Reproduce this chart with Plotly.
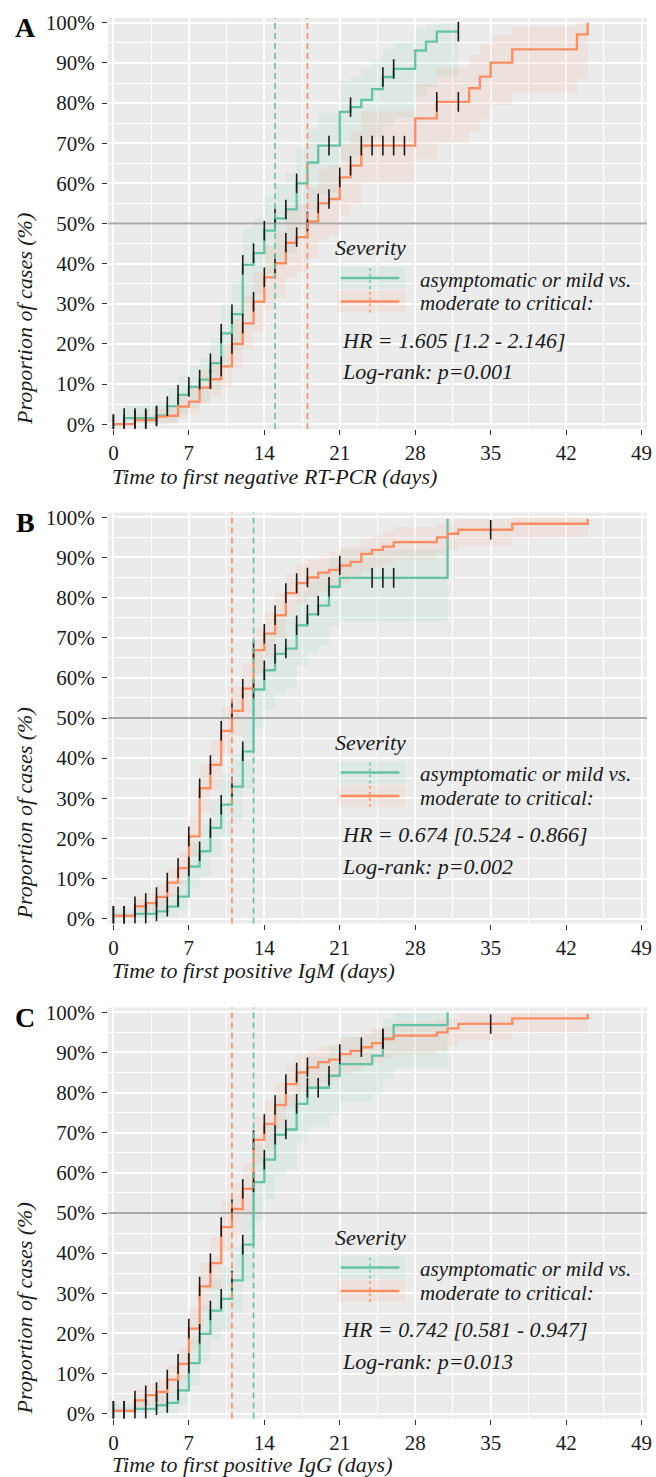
import plotly.graph_objects as go

# ---------------------------------------------------------------- text / ticks
FONT = "Liberation Serif"
GREEN = "#66C2A5"
ORANGE = "#FC8D62"
GREEN_FILL = "rgba(102,194,165,0.10)"
ORANGE_FILL = "rgba(252,141,98,0.10)"

X_TICKS = [0, 7, 14, 21, 28, 35, 42, 49]
X_TICK_LABELS = ["0", "7", "14", "21", "28", "35", "42", "49"]
Y_TICKS = [0, 10, 20, 30, 40, 50, 60, 70, 80, 90, 100]
Y_TICK_LABELS = ["0%", "10%", "20%", "30%", "40%", "50%", "60%", "70%", "80%", "90%", "100%"]
X_RANGE = [-0.5, 49.5]
Y_RANGE = [-1.2, 101.2]

PANEL_LETTERS = ["A", "B", "C"]
X_TITLES = ["Time to first negative RT-PCR (days)",
            "Time to first positive IgM (days)",
            "Time to first positive IgG (days)"]
Y_TITLE = "Proportion of cases (%)"
LEGEND_TITLE = "Severity"
GROUP_LABELS = ["asymptomatic or mild vs.", "moderate to critical:"]
HR_TEXTS = ["HR = 1.605 [1.2 - 2.146]", "HR = 0.674 [0.524 - 0.866]", "HR = 0.742 [0.581 - 0.947]"]
LOGRANK_TEXTS = ["Log-rank: p=0.001", "Log-rank: p=0.002", "Log-rank: p=0.013"]
REFERENCE_LEVEL = 50

# ---------------------------------------------------------------- panel A data
A_MILD_TIME = [0, 1, 4, 5, 6, 7, 8, 9, 10, 11, 12, 13, 14, 15, 16, 17, 18, 19, 21, 22, 23, 24, 25, 26, 28, 29, 30]
A_MILD_PCT = [0, 1.5, 2.2, 4.5, 7.3, 9.3, 11.1, 15.2, 22.6, 27.4, 39.7, 42.6, 48.2, 51.3, 53.5, 60.0, 65.2, 69.4,
              77.8, 79.0, 80.8, 83.5, 86.5, 88.5, 93.1, 95.3, 97.8]
A_MILD_LO = [0, 0, 0, 0.5, 2.5, 4.0, 5.5, 8.5, 14.5, 18.5, 29.5, 32.5, 37.5, 40.5, 42.5, 48.5, 53.5, 57.5,
             65.5, 67.0, 68.5, 71.5, 74.5, 76.5, 81.5, 84.0, 86.5]
A_MILD_HI = [0, 4.5, 5.5, 9.0, 12.0, 14.5, 16.5, 21.5, 30.0, 35.5, 48.5, 51.5, 57.0, 60.0, 62.5, 69.0, 73.5, 77.5,
             85.5, 86.5, 88.5, 91.0, 93.5, 95.0, 98.5, 99.5, 100]
A_MILD_END = 32
A_MILD_CENSOR = [0, 1, 2, 3, 4, 5, 6, 7, 8, 9, 10, 11, 12, 13, 14, 15, 16, 17, 20, 22, 25, 26, 32]
A_MILD_MEDIAN = 15

A_MOD_TIME = [0, 2, 4, 5, 6, 7, 8, 9, 10, 11, 12, 13, 14, 15, 16, 17, 18, 19, 20, 21, 22, 23, 28, 30, 33, 34,
              35, 37, 43, 44]
A_MOD_PCT = [0, 1.0, 1.9, 2.1, 4.4, 5.6, 9.1, 11.2, 14.4, 20.0, 25.1, 30.5, 36.6, 40.1, 45.2, 46.6, 50.5, 55.0,
             56.1, 61.5, 64.4, 69.4, 76.2, 80.3, 83.7, 86.6, 90.1, 93.4, 97.1, 100]
A_MOD_LO = [0, 0, 0, 0, 1.5, 2.5, 5.0, 6.5, 9.0, 14.0, 18.5, 23.0, 28.5, 31.5, 36.5, 38.0, 41.5, 46.0, 47.0,
            52.0, 55.0, 60.0, 66.0, 70.0, 73.0, 76.0, 79.5, 82.5, 86.0, 88.0]
A_MOD_HI = [0, 2.5, 4.0, 4.5, 7.5, 9.0, 13.5, 16.0, 20.0, 26.0, 32.0, 38.0, 44.5, 48.0, 53.5, 55.0, 59.0, 63.5,
            64.5, 70.0, 73.0, 78.0, 85.0, 89.0, 92.0, 94.5, 97.0, 99.0, 100, 100]
A_MOD_END = 44
A_MOD_CENSOR = [0, 1, 2, 3, 4, 9, 10, 11, 12, 13, 14, 15, 16, 17, 18, 19, 20, 21, 22, 23, 24, 25, 26, 27, 30, 32]
A_MOD_MEDIAN = 18

# ---------------------------------------------------------------- panel B data
B_MILD_TIME = [0, 2, 4, 5, 6, 7, 8, 9, 10, 11, 12, 13, 14, 15, 16, 17, 18, 19, 20, 21, 31]
B_MILD_PCT = [0.7, 1.2, 1.8, 3.0, 5.5, 13.0, 16.8, 22.6, 28.4, 32.9, 41.7, 57.1, 61.9, 66.0, 67.3, 73.1, 75.8,
              78.0, 82.7, 84.9, 99.6]
B_MILD_LO = [0, 0, 0, 0.5, 2.0, 7.5, 10.5, 15.5, 20.5, 24.5, 32.5, 47.5, 52.0, 56.0, 57.5, 63.0, 66.0, 68.0,
             73.0, 74.0, 74.0]
B_MILD_HI = [2.5, 3.5, 4.5, 6.0, 9.5, 19.0, 23.5, 30.0, 36.0, 41.0, 50.5, 66.0, 70.5, 74.5, 76.0, 81.5, 84.0,
             86.0, 90.0, 92.0, 100]
B_MILD_END = 31
B_MILD_CENSOR = [0, 1, 2, 3, 4, 5, 6, 7, 8, 9, 10, 11, 12, 13, 14, 15, 16, 17, 18, 19, 20, 24, 25, 26]
B_MILD_MEDIAN = 13

B_MOD_TIME = [0, 2, 3, 4, 5, 6, 7, 8, 9, 10, 11, 12, 13, 14, 15, 16, 17, 18, 19, 20, 21, 22, 23, 24, 25, 26,
              30, 31, 32, 37, 44]
B_MOD_PCT = [0.7, 3.1, 3.9, 5.4, 9.0, 12.6, 20.5, 32.5, 38.3, 46.8, 51.8, 57.3, 66.9, 71.0, 75.6, 81.1, 83.6,
             85.0, 86.2, 86.9, 88.0, 88.9, 90.9, 91.9, 92.7, 93.8, 95.0, 95.9, 96.9, 98.4, 99.6]
B_MOD_LO = [0, 1.0, 1.5, 2.5, 5.5, 8.5, 15.5, 26.5, 32.0, 40.5, 45.5, 51.0, 61.0, 65.0, 70.0, 76.0, 78.5, 80.0,
            81.5, 82.0, 83.5, 84.5, 86.5, 87.5, 88.5, 89.5, 91.0, 92.0, 93.0, 95.0, 96.0]
B_MOD_HI = [1.5, 5.5, 6.5, 8.5, 12.5, 16.5, 25.5, 38.5, 44.5, 53.0, 58.0, 63.5, 72.5, 76.5, 81.0, 86.0, 88.5,
            89.5, 90.5, 91.5, 92.5, 93.0, 94.5, 95.5, 96.5, 97.5, 98.5, 99.0, 99.5, 100, 100]
B_MOD_END = 44
B_MOD_CENSOR = [0, 1, 2, 3, 4, 5, 6, 7, 8, 9, 10, 11, 12, 13, 14, 15, 16, 17, 18, 21, 35]
B_MOD_MEDIAN = 11

# ---------------------------------------------------------------- panel C data
C_MILD_TIME = [0, 2, 4, 5, 6, 7, 8, 9, 10, 11, 12, 13, 14, 15, 16, 17, 18, 20, 21, 24, 25, 26, 31]
C_MILD_PCT = [0.7, 1.2, 2.1, 2.7, 5.8, 12.6, 19.9, 25.7, 28.6, 33.2, 42.1, 57.7, 63.3, 69.5, 70.8, 77.2, 81.2,
              84.2, 87.1, 89.2, 93.5, 96.8, 100]
C_MILD_LO = [0, 0, 0, 0, 2.0, 7.0, 13.0, 18.5, 21.0, 25.0, 33.0, 48.0, 53.5, 59.5, 61.0, 67.5, 71.5, 74.5,
             77.5, 79.5, 83.5, 86.0, 86.0]
C_MILD_HI = [2.5, 3.5, 4.5, 5.5, 10.0, 18.5, 27.0, 33.5, 36.5, 41.5, 51.0, 67.0, 72.5, 78.5, 79.5, 85.5, 89.0,
             91.5, 94.0, 95.5, 98.5, 100, 100]
C_MILD_END = 31
C_MILD_CENSOR = [0, 1, 2, 3, 4, 5, 6, 7, 8, 9, 10, 11, 12, 13, 14, 15, 16, 17, 18, 19, 20, 25]
C_MILD_MEDIAN = 13

C_MOD_TIME = [0, 2, 3, 4, 5, 6, 7, 8, 9, 10, 11, 12, 13, 14, 15, 16, 17, 18, 19, 20, 21, 22, 23, 24, 25, 26,
              30, 31, 32, 37, 44]
C_MOD_PCT = [0.7, 3.3, 4.6, 5.4, 8.5, 12.4, 21.2, 31.7, 37.5, 46.5, 51.0, 56.0, 68.2, 72.2, 76.9, 82.1, 85.0,
             86.3, 87.6, 88.2, 89.6, 90.4, 91.3, 92.3, 93.3, 94.2, 95.0, 96.0, 97.1, 98.5, 99.6]
C_MOD_LO = [0, 1.0, 2.0, 2.5, 5.0, 8.5, 16.0, 25.5, 31.0, 40.0, 44.5, 49.5, 62.0, 66.0, 71.0, 76.5, 79.5, 81.0,
            82.5, 83.0, 84.5, 85.5, 86.5, 87.5, 88.5, 89.5, 90.5, 91.5, 93.0, 95.0, 96.0]
C_MOD_HI = [1.5, 6.0, 7.5, 8.5, 12.0, 16.5, 26.5, 37.5, 44.0, 53.0, 57.5, 62.5, 74.0, 78.0, 82.5, 87.0, 89.5,
            90.5, 91.5, 92.0, 93.5, 94.0, 95.0, 96.0, 96.5, 97.5, 98.0, 98.5, 99.5, 100, 100]
C_MOD_END = 44
C_MOD_CENSOR = [0, 1, 2, 3, 4, 5, 6, 7, 8, 9, 10, 11, 12, 13, 14, 15, 16, 17, 18, 21, 23, 25, 35]
C_MOD_MEDIAN = 11

PANELS = [
    [dict(t=A_MILD_TIME, v=A_MILD_PCT, lo=A_MILD_LO, hi=A_MILD_HI, end=A_MILD_END, cens=A_MILD_CENSOR,
          med=A_MILD_MEDIAN, color=GREEN, fill=GREEN_FILL),
     dict(t=A_MOD_TIME, v=A_MOD_PCT, lo=A_MOD_LO, hi=A_MOD_HI, end=A_MOD_END, cens=A_MOD_CENSOR,
          med=A_MOD_MEDIAN, color=ORANGE, fill=ORANGE_FILL)],
    [dict(t=B_MILD_TIME, v=B_MILD_PCT, lo=B_MILD_LO, hi=B_MILD_HI, end=B_MILD_END, cens=B_MILD_CENSOR,
          med=B_MILD_MEDIAN, color=GREEN, fill=GREEN_FILL),
     dict(t=B_MOD_TIME, v=B_MOD_PCT, lo=B_MOD_LO, hi=B_MOD_HI, end=B_MOD_END, cens=B_MOD_CENSOR,
          med=B_MOD_MEDIAN, color=ORANGE, fill=ORANGE_FILL)],
    [dict(t=C_MILD_TIME, v=C_MILD_PCT, lo=C_MILD_LO, hi=C_MILD_HI, end=C_MILD_END, cens=C_MILD_CENSOR,
          med=C_MILD_MEDIAN, color=GREEN, fill=GREEN_FILL),
     dict(t=C_MOD_TIME, v=C_MOD_PCT, lo=C_MOD_LO, hi=C_MOD_HI, end=C_MOD_END, cens=C_MOD_CENSOR,
          med=C_MOD_MEDIAN, color=ORANGE, fill=ORANGE_FILL)],
]

# ---------------------------------------------------------------- geometry
W, H = 656, 1477
ML, MR = 108, 9
PW = W - ML - MR            # 539
PH = 411
TOPS = [18, 512.5, 1007.5]
XTITLE_OFFSETS = [47, 47, 45.5]
TXT = 22
LEG_TXT = 21
TICK_TXT = 21
TXT_COLOR = "#1a1a1a"


def value_at(times, vals, t):
    out = vals[0]
    for ti, vi in zip(times, vals):
        if ti <= t:
            out = vi
    return out


def fx(px):  # panel-relative pixel -> x domain fraction
    return px / PW


def fy(py):  # panel-relative pixel from panel top -> y domain fraction
    return 1 - py / PH


fig = go.Figure()
shapes, annotations = [], []

for i, panel in enumerate(PANELS):
    sfx = "" if i == 0 else str(i + 1)
    xa, ya = "x" + sfx, "y" + sfx
    top = TOPS[i]
    dom = [1 - (top + PH) / H, 1 - top / H]

    axis_font = dict(family=FONT, size=TICK_TXT, color=TXT_COLOR)
    fig.update_layout(**{
        "xaxis" + sfx: dict(domain=[0, 1], anchor=ya, range=X_RANGE, tickvals=X_TICKS,
                            ticktext=X_TICK_LABELS, ticks="outside", ticklen=5, tickwidth=1.2,
                            tickcolor="#333333", showgrid=True, gridcolor="white", gridwidth=2,
                            minor=dict(dtick=3.5, tick0=0, showgrid=True, gridcolor="white", gridwidth=1),
                            zeroline=False, showline=False, tickfont=axis_font, fixedrange=True,
                            automargin=False),
        "yaxis" + sfx: dict(domain=dom, anchor=xa, range=Y_RANGE, tickvals=Y_TICKS,
                            ticktext=Y_TICK_LABELS, ticks="outside", ticklen=5, tickwidth=1.2,
                            tickcolor="#333333", showgrid=True, gridcolor="white", gridwidth=2,
                            minor=dict(dtick=5, tick0=0, showgrid=True, gridcolor="white", gridwidth=1),
                            zeroline=False, showline=False, tickfont=axis_font, fixedrange=True,
                            automargin=False, ticklabelstandoff=3),
    })

    # confidence bands
    for s in panel:
        xs = s["t"] + [s["end"]]
        fig.add_trace(go.Scatter(x=xs, y=s["lo"] + [s["lo"][-1]], mode="lines", line=dict(width=0, shape="hv"),
                                 xaxis=xa, yaxis=ya, showlegend=False, hoverinfo="skip"))
        fig.add_trace(go.Scatter(x=xs, y=s["hi"] + [s["hi"][-1]], mode="lines", line=dict(width=0, shape="hv"),
                                 fill="tonexty", fillcolor=s["fill"], xaxis=xa, yaxis=ya,
                                 showlegend=False, hoverinfo="skip"))
    # 50 % reference line across the whole axis range (under the curves)
    fig.add_trace(go.Scatter(x=X_RANGE, y=[REFERENCE_LEVEL, REFERENCE_LEVEL], mode="lines",
                             line=dict(color="#A8A8A8", width=2.2), xaxis=xa, yaxis=ya,
                             showlegend=False, hoverinfo="skip", cliponaxis=True))
    # step curves
    for s in panel:
        fig.add_trace(go.Scatter(x=s["t"] + [s["end"]], y=s["v"] + [s["v"][-1]], mode="lines",
                                 line=dict(color=s["color"], width=2.3, shape="hv"),
                                 xaxis=xa, yaxis=ya, showlegend=False))
    # censor marks
    for s in panel:
        fig.add_trace(go.Scatter(x=s["cens"], y=[value_at(s["t"], s["v"], c) for c in s["cens"]],
                                 mode="markers",
                                 marker=dict(symbol="line-ns", size=14, color="#1a1a1a",
                                             line=dict(color="#1a1a1a", width=1.6)),
                                 xaxis=xa, yaxis=ya, showlegend=False))

    # medians
    for s in panel:
        shapes.append(dict(type="line", xref=xa, x0=s["med"], x1=s["med"], yref=ya + " domain", y0=0, y1=1,
                           line=dict(color=s["color"], width=1.6, dash="6px,4px"), layer="above"))

    # hand-built legend (ggplot style)
    for k, s in enumerate(panel):
        yc = [260, 283.5][k]
        shapes.append(dict(type="rect", xref=xa + " domain", yref=ya + " domain",
                           x0=fx(229), x1=fx(297), y0=fy(yc + 11), y1=fy(yc - 11),
                           fillcolor=s["fill"], line=dict(width=0), layer="above"))
        shapes.append(dict(type="line", xref=xa + " domain", yref=ya + " domain",
                           x0=fx(232.7), x1=fx(291.3), y0=fy(yc), y1=fy(yc),
                           line=dict(color=s["color"], width=2.3), layer="above"))
        shapes.append(dict(type="line", xref=xa + " domain", yref=ya + " domain",
                           x0=fx(262), x1=fx(262), y0=fy(yc + 11), y1=fy(yc - 11),
                           line=dict(color=s["color"], width=1.4, dash="3px,3px"), layer="above"))
        annotations.append(dict(text=GROUP_LABELS[k], xref=xa + " domain", yref=ya + " domain",
                                x=fx(310), y=fy(yc + 1.5), xanchor="left", yanchor="middle", showarrow=False,
                                font=dict(family=FONT, size=LEG_TXT, color=TXT_COLOR, style="italic")))
    annotations.append(dict(text=LEGEND_TITLE, xref=xa + " domain", yref=ya + " domain",
                            x=fx(225), y=fy(229.5), xanchor="left", yanchor="middle", showarrow=False,
                            font=dict(family=FONT, size=TXT, color=TXT_COLOR, style="italic")))
    annotations.append(dict(text=HR_TEXTS[i], xref=xa + " domain", yref=ya + " domain",
                            x=fx(232), y=fy(322), xanchor="left", yanchor="middle", showarrow=False,
                            font=dict(family=FONT, size=TXT, color=TXT_COLOR, style="italic")))
    annotations.append(dict(text=LOGRANK_TEXTS[i], xref=xa + " domain", yref=ya + " domain",
                            x=fx(232), y=fy(353.5), xanchor="left", yanchor="middle", showarrow=False,
                            font=dict(family=FONT, size=TXT, color=TXT_COLOR, style="italic")))

    # axis titles (left / bottom aligned as in the original)
    annotations.append(dict(text=X_TITLES[i], xref=xa + " domain", yref=ya + " domain",
                            x=fx(2), y=fy(PH + XTITLE_OFFSETS[i]), xanchor="left", yanchor="middle",
                            showarrow=False,
                            font=dict(family=FONT, size=TXT, color=TXT_COLOR, style="italic")))
    annotations.append(dict(text=Y_TITLE, xref=xa + " domain", yref=ya + " domain", textangle=-90,
                            x=fx(24 - ML), y=fy(PH - 2), xanchor="center", yanchor="bottom", showarrow=False,
                            font=dict(family=FONT, size=TXT, color=TXT_COLOR, style="italic")))
    # panel letter
    annotations.append(dict(text="<b>" + PANEL_LETTERS[i] + "</b>", xref=xa + " domain", yref=ya + " domain",
                            x=fx(25 - ML), y=fy(10), xanchor="center", yanchor="middle", showarrow=False,
                            font=dict(family=FONT, size=28, color="#000000")))

fig.update_layout(width=W, height=H, margin=dict(l=ML, r=MR, t=0, b=0, pad=0),
                  paper_bgcolor="white", plot_bgcolor="#EBEBEB", showlegend=False,
                  shapes=shapes, annotations=annotations,
                  font=dict(family=FONT, size=TXT, color=TXT_COLOR))

fig.write_html("out.html", config={"displayModeBar": False},
               post_script="document.body.style.margin='0px';")
